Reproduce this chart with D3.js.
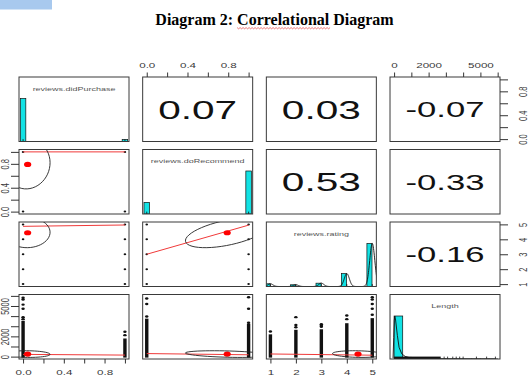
<!DOCTYPE html>
<html>
<head>
<meta charset="utf-8">
<script src="https://cdnjs.cloudflare.com/ajax/libs/d3/7.8.5/d3.min.js"></script>
<style>
  body { margin: 0; background: #fff; }
  svg { display: block; font-family: "Liberation Sans", Arial, sans-serif; }
</style>
</head>
<body>
<div id="chart"></div>
<script>
// variables on the diagonal
const variables = ["reviews.didPurchase", "reviews.doRecommend", "reviews.rating", "Length"];
const ranges = [[0, 1], [0, 1], [1, 5], [0, 5900]];
const means = [0.045, 0.79, 4.44, 250];
const sds = [0.22, 0.41, 1.0, 330];
const correlations = [
    [1, 0.07, 0.03, -0.07],
    [0.07, 1, 0.53, -0.33],
    [0.03, 0.53, 1, -0.16],
    [-0.07, -0.33, -0.16, 1]
];

// discrete levels
const purchaseLevels = [0, 1];
const recommendLevels = [0, 1];
const ratingLevels = [1, 2, 3, 4, 5];

// histogram heights (relative to tallest bar)
const purchaseHeights = [1, 0.047];
const recommendHeights = [0.27, 1];
const ratingHeights = [0.063, 0.04, 0.077, 0.30, 1];
const lengthBreaks = [0, 500, 1000, 1500, 2000, 2500, 3000, 3500, 4000, 4500, 5000, 5500, 6000];
const lengthHeights = [1, 0.04, 0.012, 0.006, 0.004, 0.003, 0.002, 0.002, 0.001, 0.001, 0.001, 0.001];
const lengthDensity = [[-60, 0.02], [-20, 0.5], [10, 0.9], [40, 1.0], [80, 0.93], [190, 0.55],
    [290, 0.27], [445, 0.12], [640, 0.06], [900, 0.03], [1500, 0.01], [2500, 0.003], [5900, 0]];
const lengthRugDense = [0, 2700];
const lengthRugTicks = [2900, 3100, 3400, 3600, 3800, 4000, 4770, 5360, 5870];

// Length against the other variables: solid column top + single points above it
const lengthTopByPurchase = [3530, 1790];
const lengthOutByPurchase = [[3700, 3900, 4730, 5140, 5640, 5810], [2120, 2450]];
const lengthTopByRecommend = [3750, 3250];
const lengthOutByRecommend = [[3960, 5200, 5740], [3350, 4730, 5870]];
const lengthTopByRating = [2200, 2650, 2700, 3300, 3800];
const lengthOutByRating = [[2480], [2900, 3130, 3900], [2950, 3050, 3200], [3700, 4060], [4130, 4730, 5200, 5640, 5870]];

// lowess smoothers
const lowessRecommendPurchase = [[0, 1.0], [1, 1.0]];
const lowessRatingPurchase = [[0, 4.87], [1, 4.96]];
const lowessRatingRecommend = [[0, 3.0], [1, 4.95]];
const lowessLengthPurchase = [[0, 220], [1, 150]];
const lowessLengthRecommend = [[0, 300], [1, 180]];
const lowessLengthRating = [[1, 260], [3, 200], [5, 140]];

// axis ticks
const binaryTicks = [0, 0.2, 0.4, 0.6, 0.8, 1.0];
const binaryLabels = [0, 0.4, 0.8];
const ratingTicks = [1, 2, 3, 4, 5];
const lengthTicks = [0, 1000, 2000, 3000, 4000, 5000, 6000];
const lengthLabels = [0, 2000, 5000];

// ---- layout ----
const W = 530, H = 392;
const SX = 1.55;            // the picture is stretched sideways
const gridLeft = 19, gridTop = 77, pw = 110, ph = 64.5, gx = 13.67, gy = 8;
const colX = d3.range(4).map(j => gridLeft + j * (pw + gx));
const rowY = d3.range(4).map(i => gridTop + i * (ph + gy));

const svg = d3.select("#chart").append("svg").attr("width", W).attr("height", H);
svg.append("rect").attr("width", W).attr("height", H).attr("fill", "#fff");
svg.append("rect").attr("x", 0).attr("y", 0).attr("width", 52).attr("height", 9.5).attr("fill", "#a8c9ee");

// title with spell-check squiggle
const title = svg.append("text")
    .attr("x", 274.5).attr("y", 24.5)
    .attr("text-anchor", "middle")
    .attr("font-family", "'Liberation Serif', 'Times New Roman', serif")
    .attr("font-weight", "bold").attr("font-size", 16).attr("fill", "#000")
    .text("Diagram 2: Correlational Diagram");
{
    const n = title.node();
    const x0 = n.getStartPositionOfChar(11).x, x1 = n.getEndPositionOfChar(23).x;
    let p = "M" + x0 + ",27.6";
    for (let x = x0, k = 0; x < x1; x += 1.5, k++) p += "L" + (x + 1.5) + "," + (k % 2 ? 27.6 : 28.8);
    svg.append("path").attr("d", p).attr("fill", "none").attr("stroke", "#e02020").attr("stroke-width", 0.6);
}

function expand(r) {
    const d = (r[1] - r[0]) * 0.04;
    return [r[0] - d, r[1] + d];
}
const xs = ranges.map((r, j) => d3.scaleLinear().domain(expand(r)).range([colX[j], colX[j] + pw]));
const ys = ranges.map((r, i) => d3.scaleLinear().domain(expand(r)).range([rowY[i] + ph, rowY[i]]));
const hy = d3.range(4).map(i => d3.scaleLinear().domain([0, 1.5]).range([rowY[i] + ph, rowY[i]]));

const defs = svg.append("defs");
d3.range(4).forEach(i => d3.range(4).forEach(j => {
    defs.append("clipPath").attr("id", "c" + i + j).append("rect")
        .attr("x", colX[j]).attr("y", rowY[i]).attr("width", pw).attr("height", ph);
}));

function stretched(g, x, y, str, size, fill) {
    return g.append("text")
        .attr("transform", `translate(${x},${y}) scale(${SX},1)`)
        .attr("text-anchor", "middle")
        .attr("font-size", size).attr("fill", fill)
        .text(str);
}

const levels = [purchaseLevels, recommendLevels, ratingLevels, null];
const heights = [purchaseHeights, recommendHeights, ratingHeights, null];
const lowess = {
    "1-0": lowessRecommendPurchase, "2-0": lowessRatingPurchase, "2-1": lowessRatingRecommend,
    "3-0": lowessLengthPurchase, "3-1": lowessLengthRecommend, "3-2": lowessLengthRating
};
const lengthTops = [lengthTopByPurchase, lengthTopByRecommend, lengthTopByRating];
const lengthOuts = [lengthOutByPurchase, lengthOutByRecommend, lengthOutByRating];
const HIST = "#12e2e4";

// ---- diagonal: histograms, densities, rugs, names ----
d3.range(4).forEach(k => {
    const g = svg.append("g").attr("clip-path", `url(#c${k}${k})`);
    const x = xs[k], y = hy[k];
    if (levels[k]) {
        // bars for discrete variables
        const half = k < 2 ? 0.027 : 0.1;
        const shift = k < 2 ? 0 : -0.11;
        g.selectAll("rect.bar").data(levels[k]).join("rect")
            .attr("x", d => x(d + shift - half))
            .attr("width", d => x(d + shift + half) - x(d + shift - half))
            .attr("y", (d, n) => y(heights[k][n]))
            .attr("height", (d, n) => y(0) - y(heights[k][n]))
            .attr("fill", HIST).attr("stroke", "#111").attr("stroke-width", 0.7);
    } else {
        g.selectAll("rect.bar").data(lengthHeights).join("rect")
            .attr("x", (d, n) => x(lengthBreaks[n]))
            .attr("width", (d, n) => x(lengthBreaks[n + 1]) - x(lengthBreaks[n]))
            .attr("y", d => y(d))
            .attr("height", d => y(0) - y(d))
            .attr("fill", HIST).attr("stroke", "#111").attr("stroke-width", 0.7);
    }
    // density
    let dens = null;
    if (k === 2) {
        const bw = 0.1;
        const grid = d3.range(0.7, 5.31, 0.01);
        const raw = grid.map(t => [t, d3.sum(ratingLevels, (v, n) => ratingHeights[n] * Math.exp(-0.5 * ((t - v) / bw) ** 2))]);
        const m = d3.max(raw, d => d[1]);
        dens = raw.map(d => [d[0], d[1] / m]);
    } else if (k === 3) {
        dens = lengthDensity;
    }
    if (dens) {
        g.append("path").datum(dens)
            .attr("d", d3.line().x(d => x(d[0])).y(d => y(d[1])))
            .attr("fill", "none").attr("stroke", "#111").attr("stroke-width", 0.9);
    }
    // rug
    const rugVals = levels[k] ? levels[k] : lengthRugTicks;
    g.selectAll("line.rug").data(rugVals).join("line")
        .attr("x1", d => x(d)).attr("x2", d => x(d))
        .attr("y1", y(0)).attr("y2", y(0) - 2.4)
        .attr("stroke", "#111").attr("stroke-width", 0.8);
    if (k === 3) {
        g.append("rect").attr("x", x(lengthRugDense[0])).attr("y", y(0) - 2.4)
            .attr("width", x(lengthRugDense[1]) - x(lengthRugDense[0])).attr("height", 2.4)
            .attr("fill", "#111");
    }
    stretched(svg, colX[k] + pw / 2, rowY[k] + 13.5, variables[k], 5.8, "#555");
});

// ---- upper panels: correlations ----
d3.range(4).forEach(i => d3.range(i + 1, 4).forEach(j => {
    const label = correlations[i][j].toFixed(2);
    const t = stretched(svg, colX[j] + pw / 2, rowY[i] + ph / 2, label, 100, "#111");
    const len = t.node().getComputedTextLength();
    const fs = 100 * 79 / (SX * len);
    t.attr("font-size", fs)
        .attr("transform", `translate(${colX[j] + pw / 2},${rowY[i] + ph / 2 + 0.36 * fs}) scale(${SX},1)`);
}));

// ---- lower panels: scatter, lowess, ellipse ----
function ellipsePts(mx, my, sx, sy, r) {
    const th = Math.abs(r) > 0 ? Math.sign(r) / Math.sqrt(2) : 1 / Math.sqrt(2);
    const a = Math.sqrt(1 + r), b = Math.sqrt(1 - r);
    return d3.range(52).map(s => {
        const ang = s * 2 * Math.PI / 51;
        const c = Math.cos(ang), sn = Math.sin(ang);
        // unit.circle %*% diag(a,b) %*% [[th,th],[-th,th]]
        const u = c * a, v = sn * b;
        return [(u * th - v * th) * sx + mx, (u * th + v * th) * sy + my];
    });
}

d3.range(1, 4).forEach(i => d3.range(0, i).forEach(j => {
    const g = svg.append("g").attr("clip-path", `url(#c${i}${j})`);
    const x = xs[j], y = ys[i];
    if (i < 3) {
        const pts = d3.cross(levels[j], levels[i]);
        g.selectAll("ellipse.pt").data(pts).join("ellipse")
            .attr("cx", d => x(d[0])).attr("cy", d => y(d[1]))
            .attr("rx", 1.3).attr("ry", 1.0).attr("fill", "#111");
    } else {
        const tops = lengthTops[j], outs = lengthOuts[j];
        g.selectAll("rect.col").data(levels[j]).join("rect")
            .attr("x", d => x(d) - 1.7).attr("width", 3.4)
            .attr("y", (d, n) => y(tops[n]))
            .attr("height", (d, n) => y(0) - y(tops[n]) + 1)
            .attr("fill", "#111");
        const singles = levels[j].flatMap((d, n) => outs[n].map(v => [d, v]));
        g.selectAll("ellipse.pt").data(singles).join("ellipse")
            .attr("cx", d => x(d[0])).attr("cy", d => y(d[1]))
            .attr("rx", 1.7).attr("ry", 1.2).attr("fill", "#111");
    }
    g.append("path").datum(lowess[i + "-" + j])
        .attr("d", d3.line().x(d => x(d[0])).y(d => y(d[1])))
        .attr("fill", "none").attr("stroke", "#f03a3a").attr("stroke-width", 1);
    g.append("ellipse").attr("cx", x(means[j])).attr("cy", y(means[i]))
        .attr("rx", 3.6).attr("ry", 2.6).attr("fill", "#f00");
    g.append("path").datum(ellipsePts(means[j], means[i], sds[j], sds[i], correlations[i][j]))
        .attr("d", d3.line().x(d => x(d[0])).y(d => y(d[1])))
        .attr("fill", "none").attr("stroke", "#222").attr("stroke-width", 0.9);
}));

// ---- panel frames ----
d3.range(4).forEach(i => d3.range(4).forEach(j => {
    svg.append("rect").attr("x", colX[j]).attr("y", rowY[i]).attr("width", pw).attr("height", ph)
        .attr("fill", "none").attr("stroke", "#3a3a3a").attr("stroke-width", 1);
}));

// ---- axes ----
function fmtFor(k) {
    return k < 2 ? d3.format(".1f") : d => String(d);
}
function drawAxis(side, k, scale, pos, ticks, labels) {
    const gen = { top: d3.axisTop, bottom: d3.axisBottom, left: d3.axisLeft, right: d3.axisRight }[side](scale)
        .tickValues(ticks).tickSizeOuter(0)
        .tickSize(side === "top" || side === "bottom" ? 4.5 : 8)
        .tickFormat(d => labels.includes(d) ? fmtFor(k)(d) : "");
    const horiz = side === "top" || side === "bottom";
    const g = svg.append("g")
        .attr("transform", horiz ? `translate(0,${pos})` : `translate(${pos},0)`)
        .call(gen);
    g.select(".domain").remove();
    g.attr("font-size", 7.5).attr("font-family", "'Liberation Sans', Arial, sans-serif");
    g.selectAll("line").attr("stroke", "#333");
    const off = { top: -12, bottom: 13.5, left: -13.8, right: 23 }[side];
    g.selectAll("text").attr("x", null).attr("y", null).attr("dy", null)
        .attr("fill", "#3a3a3a").attr("text-anchor", "middle").attr("dominant-baseline", "central")
        .attr("transform", horiz ? `translate(0,${off}) scale(${SX},1)` : `translate(${off},0) scale(${SX},1) rotate(-90)`);
}
drawAxis("top", 1, xs[1], rowY[0], binaryTicks, binaryLabels);
drawAxis("top", 3, xs[3], rowY[0], lengthTicks, lengthLabels);
drawAxis("right", 0, ys[0], colX[3] + pw, binaryTicks, binaryLabels);
drawAxis("right", 2, ys[2], colX[3] + pw, ratingTicks, ratingTicks);
drawAxis("left", 1, ys[1], colX[0], binaryTicks, binaryLabels);
drawAxis("left", 3, ys[3], colX[0], lengthTicks, lengthLabels);
drawAxis("bottom", 0, xs[0], rowY[3] + ph, binaryTicks, binaryLabels);
drawAxis("bottom", 2, xs[2], rowY[3] + ph, ratingTicks, ratingTicks);
</script>
</body>
</html>
